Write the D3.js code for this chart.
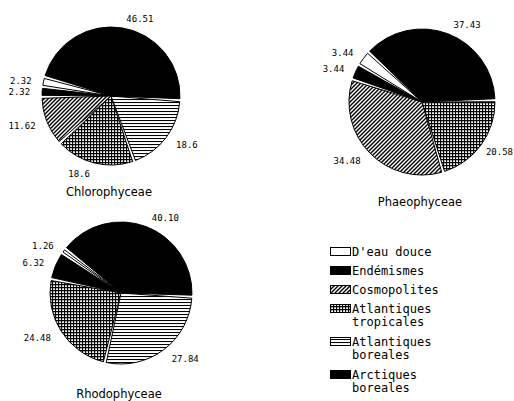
<!DOCTYPE html>
<html>
<head>
<meta charset="utf-8">
<script src="https://cdn.jsdelivr.net/npm/d3@7"></script>
<style>
  body { margin: 0; background: #fff; }
  .num { font-family: "DejaVu Sans Mono", monospace; font-size: 9px; fill: #000; }
  .title { font-family: "DejaVu Sans", sans-serif; font-size: 11.5px; fill: #000; }
  .legend text { font-family: "DejaVu Sans Mono", monospace; font-size: 12px; fill: #000; }
</style>
</head>
<body>
<div id="chart"></div>
<script>
// categories, in legend order (also the counter-clockwise order of the slices)
const categories = ["D'eau douce", "Endémismes", "Cosmopolites", "Atlantiques tropicales", "Atlantiques boreales", "Arctiques boreales"];
const legendLines = [["D'eau douce"], ["Endémismes"], ["Cosmopolites"], ["Atlantiques", "tropicales"], ["Atlantiques", "boreales"], ["Arctiques", "boreales"]];

// percentages per group
const chloroValues = [2.32, 2.32, 11.62, 18.6, 18.6, 46.51];
const chloroLabels = ["2.32", "2.32", "11.62", "18.6", "18.6", "46.51"];
const phaeoValues = [3.44, 3.44, 34.48, 20.58, 0, 37.43];
const phaeoLabels = ["3.44", "3.44", "34.48", "20.58", "", "37.43"];
const rhodoValues = [1.26, 6.32, 0, 24.48, 27.84, 40.10];
const rhodoLabels = ["1.26", "6.32", "", "24.48", "27.84", "40.10"];

const fills = ["#fff", "#000", "url(#cosmo)", "url(#tropic)", "url(#boreal)", "#000"];

const width = 514, height = 401;
const svg = d3.select("#chart").append("svg").attr("width", width).attr("height", height);
svg.append("rect").attr("width", width).attr("height", height).attr("fill", "#fff");

// hatch patterns
const defs = svg.append("defs");
let p = defs.append("pattern").attr("id", "cosmo").attr("patternUnits", "userSpaceOnUse")
  .attr("width", 4).attr("height", 4);
p.append("rect").attr("width", 4).attr("height", 4).attr("fill", "#fff");
p.append("path").attr("d", "M-1,1 l2,-2 M0,4 l4,-4 M3,5 l2,-2").attr("stroke", "#000").attr("stroke-width", 1.4);

p = defs.append("pattern").attr("id", "tropic").attr("patternUnits", "userSpaceOnUse")
  .attr("width", 3).attr("height", 3);
p.append("rect").attr("width", 3).attr("height", 3).attr("fill", "#fff");
p.append("path").attr("d", "M0,0.5 H3 M0.5,0 V3").attr("stroke", "#000").attr("stroke-width", 1.3);

p = defs.append("pattern").attr("id", "boreal").attr("patternUnits", "userSpaceOnUse")
  .attr("width", 3).attr("height", 3);
p.append("rect").attr("width", 3).attr("height", 3).attr("fill", "#fff");
p.append("path").attr("d", "M0,0.5 H3").attr("stroke", "#000").attr("stroke-width", 1.1);

const pies = [
  {name: "Chlorophyceae", values: chloroValues, labels: chloroLabels, cx: 111, cy: 96, r: 69, start: 286, titleY: 196},
  {name: "Phaeophyceae", values: phaeoValues, labels: phaeoLabels, cx: 422, cy: 102, r: 73, start: 313, titleY: 206},
  {name: "Rhodophyceae", values: rhodoValues, labels: rhodoLabels, cx: 121, cy: 293, r: 71, start: 308.6, titleY: 398}
];

const rad = Math.PI / 180;

pies.forEach(function(cfg){
  const data = cfg.values.map(function(v, i){ return {cat: i, value: v, label: cfg.labels[i]}; });
  const a0 = cfg.start * rad;
  const pie = d3.pie().sort(null).value(function(d){ return d.value; })
    .startAngle(a0).endAngle(a0 - 2 * Math.PI);
  const arcs = pie(data).filter(function(d){ return d.data.value > 0; });

  const arc = d3.arc().innerRadius(0).outerRadius(cfg.r).padAngle(0.03).padRadius(100);
  const g = svg.append("g").attr("transform", "translate(" + cfg.cx + "," + cfg.cy + ")");

  g.selectAll(".slice").data(arcs).enter().append("path")
    .attr("class", "slice")
    .attr("d", arc)
    .attr("fill", function(d){ return fills[d.data.cat]; })
    .attr("stroke", "#000")
    .attr("stroke-width", 1);

  const lr = cfg.r + 10;
  function mid(d){ return (d.startAngle + d.endAngle) / 2; }
  g.selectAll(".num").data(arcs).enter().append("text")
    .attr("class", "num")
    .attr("x", function(d){ return Math.sin(mid(d)) * lr + (Math.sin(mid(d)) < 0 ? -2 : 2); })
    .attr("y", function(d){ return -Math.cos(mid(d)) * lr + 4; })
    .attr("text-anchor", function(d){ return Math.sin(mid(d)) < 0 ? "end" : "start"; })
    .text(function(d){ return d.data.label; })
    .each(function(){
      // keep labels inside the picture
      const b = this.getBBox();
      const right = cfg.cx + b.x + b.width;
      if (right > width - 1) d3.select(this).attr("x", +d3.select(this).attr("x") - (right - width + 1));
    });

  svg.append("text").attr("class", "title")
    .attr("x", cfg.cx - 2).attr("y", cfg.titleY)
    .attr("text-anchor", "middle")
    .text(cfg.name);
});

// legend
const legend = svg.append("g").attr("class", "legend");
let ly = 252;
categories.forEach(function(c, i){
  legend.append("rect")
    .attr("x", 330.5).attr("y", ly - 4.5)
    .attr("width", 20).attr("height", 8)
    .attr("fill", fills[i]).attr("stroke", "#000").attr("stroke-width", 1);
  legendLines[i].forEach(function(line, j){
    legend.append("text").attr("x", 352).attr("y", ly + 4 + j * 13).text(line);
  });
  ly += 19 + 14 * (legendLines[i].length - 1);
});
</script>
</body>
</html>
